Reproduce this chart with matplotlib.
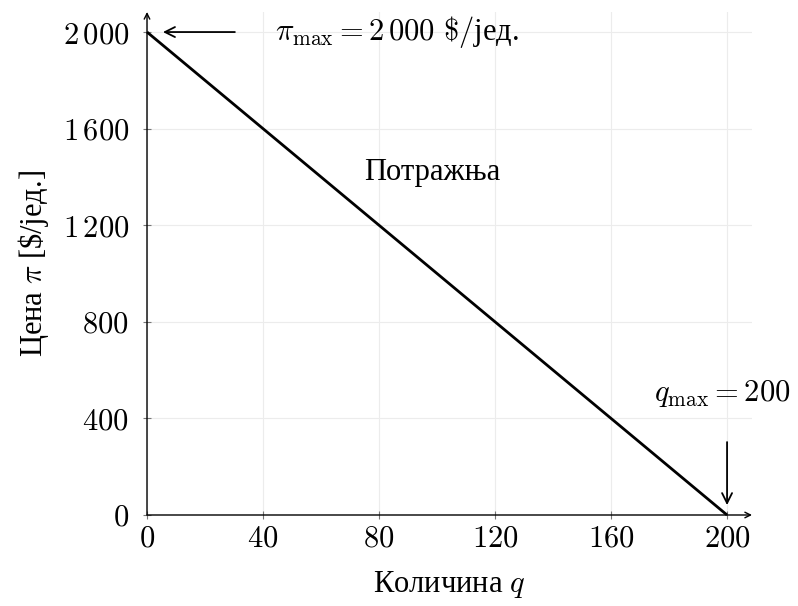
import numpy as np
import matplotlib
matplotlib.use("Agg")
from matplotlib import pyplot as plt

plt.rcParams['font.family'] = 'serif'
plt.rcParams['font.serif'] = ['Liberation Serif', 'DejaVu Serif']
plt.rcParams['mathtext.fontset'] = 'cm'

# demand line end points
q_vals = [0, 200]
price_vals = [2000, 0]

x_ticks = [0, 40, 80, 120, 160, 200]
y_ticks = [0, 400, 800, 1200, 1600, 2000]
y_tick_labels = [r'$0$', r'$400$', r'$800$', r'$1\,200$', r'$1\,600$', r'$2\,000$']
x_tick_labels = [r'$%d$' % v for v in x_ticks]

FS = 22

fig = plt.figure(figsize=(7.98, 6.06), dpi=100)
ax = fig.add_axes([147/798, (606-515)/606, (752-147)/798, (515-12)/606])

xmax, ymax = 208.6, 2083
ax.set_xlim(0, xmax)
ax.set_ylim(0, ymax)

ax.set_xticks(x_ticks)
ax.set_xticklabels(x_tick_labels)
ax.set_yticks(y_ticks)
ax.set_yticklabels(y_tick_labels)
ax.tick_params(direction='inout', length=6, width=0.8, color='#777777',
               labelsize=FS)
ax.tick_params(axis='y', pad=10)
ax.tick_params(axis='x', pad=4)
ax.grid(True, color='#ececec', linewidth=0.8)
ax.set_axisbelow(True)

for s in ['top', 'right', 'left', 'bottom']:
    ax.spines[s].set_visible(False)

# axis lines with arrow heads
ax.annotate('', xy=(1, 0), xytext=(0, 0), xycoords='axes fraction',
            arrowprops=dict(arrowstyle='->', color='black', lw=1.0,
                            shrinkA=0, shrinkB=0))
ax.annotate('', xy=(0, 1), xytext=(0, 0), xycoords='axes fraction',
            arrowprops=dict(arrowstyle='->', color='black', lw=1.0,
                            shrinkA=0, shrinkB=0))

# demand line
ax.plot(q_vals, price_vals, color='black', lw=2.0, solid_capstyle='butt',
        clip_on=False, zorder=3)

ax.text(98.3, 1420, 'Потражња', fontsize=FS, ha='center', va='center')

# pi max annotation
ax.annotate('', xy=(5.5, 2000), xytext=(30.3, 2000),
            arrowprops=dict(arrowstyle='->', color='black', lw=1.3,
                            shrinkA=0, shrinkB=0, mutation_scale=18))
ax.text(44, 2000, r'$\pi_{\mathrm{max}} = 2\,000\ \$/$јед.', fontsize=FS,
        ha='left', va='center')

# q max annotation
ax.annotate('', xy=(200, 41), xytext=(200, 302),
            arrowprops=dict(arrowstyle='->', color='black', lw=1.3,
                            shrinkA=0, shrinkB=0, mutation_scale=18))
ax.text(198.3, 505, r'$q_{\mathrm{max}} = 200$', fontsize=FS,
        ha='center', va='center', clip_on=False)

ax.set_xlabel(r'Количина $q$', fontsize=FS, labelpad=11)
ax.set_ylabel(r'Цена $\pi$ [\$/јед.]', fontsize=FS, labelpad=8)

fig.savefig('out.png', dpi=100)
